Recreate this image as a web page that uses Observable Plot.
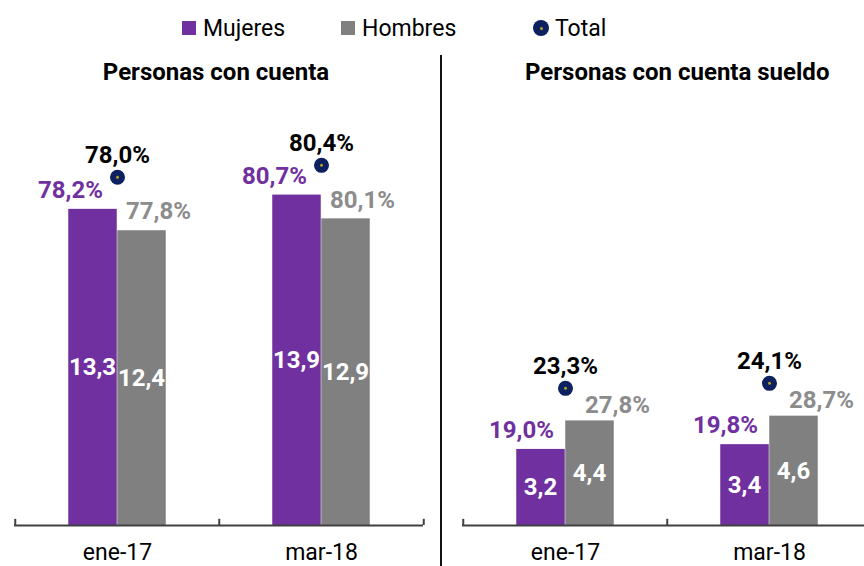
<!DOCTYPE html>
<html>
<head>
<meta charset="utf-8">
<script src="https://cdn.jsdelivr.net/npm/d3@7"></script>
<script src="https://cdn.jsdelivr.net/npm/@observablehq/plot@0.6"></script>
<style>
  html, body { margin: 0; padding: 0; background: #fff; }
  body { width: 864px; height: 566px; overflow: hidden; font-family: Roboto, "Noto Sans", sans-serif; position: relative; }
  #legend { position: relative; height: 55px; font-size: 23px; color: #000; }
  .item { position: absolute; top: 13px; display: flex; align-items: center; height: 30px; }
  .sq { width: 14px; height: 14px; margin-right: 7px; }
  .dotl { width: 16px; height: 16px; border-radius: 50%; background: #0d2060; margin-right: 6px; position: relative; }
  .dotl::after { content: ""; position: absolute; left: 6.5px; top: 6.5px; width: 3px; height: 3px; border-radius: 50%; background: #b5a21f; }
  #row { display: flex; height: 511px; width: 900px; }
  #p1 { width: 440px; flex: none; }
  #p2 { width: 440px; flex: none; border-left: 2px solid #111; }
  .title { height: 34px; line-height: 34px; font-weight: bold; font-size: 24px; color: #000; white-space: nowrap; }
</style>
</head>
<body>
<div id="legend"></div>
<div id="row">
  <div id="p1"><div class="title" id="t1"></div></div>
  <div id="p2"><div class="title" id="t2"></div></div>
</div>
<script>
// ---- Data ----
const legendLabels = ["Mujeres", "Hombres", "Total"];
const panels = ["Personas con cuenta", "Personas con cuenta sueldo"];
const periods = ["ene-17", "mar-18"];
// millions of people (bar heights / inner labels)
const mujeresCount = [[13.3, 13.9], [3.2, 3.4]];
const hombresCount = [[12.4, 12.9], [4.4, 4.6]];
// percentages shown above bars
const mujeresPct = [[78.2, 80.7], [19.0, 19.8]];
const hombresPct = [[77.8, 80.1], [27.8, 28.7]];
const totalPct = [[78.0, 80.4], [23.3, 24.1]];
// vertical position of the total marker (same units as counts)
const totalPos = [[14.65, 15.15], [5.77, 5.98]];

const colors = { Mujeres: "#7030a0", Hombres: "#808080", dot: "#0d2060", dotCenter: "#b5a21f" };
const pctColors = { Mujeres: "#7030a0", Hombres: "#8c8c8c" };

// ---- Legend ----
const legend = document.getElementById("legend");
const legendX = [182, 341, 533];
legendLabels.forEach((lab, i) => {
  const it = document.createElement("div");
  it.className = "item";
  it.style.left = legendX[i] + "px";
  const m = document.createElement("div");
  if (i < 2) { m.className = "sq"; m.style.background = colors[lab]; }
  else { m.className = "dotl"; }
  it.appendChild(m);
  const t = document.createElement("span");
  t.textContent = lab;
  it.appendChild(t);
  legend.appendChild(it);
});

const fmt = v => v.toFixed(1).replace(".", ",");

function makePanel(pi, opts) {
  const rows = periods.map((p, j) => ({
    period: p,
    m: mujeresCount[pi][j], h: hombresCount[pi][j],
    mp: mujeresPct[pi][j], hp: hombresPct[pi][j],
    tp: totalPct[pi][j], tpos: totalPos[pi][j]
  }));
  const W = opts.width, ml = opts.marginLeft, mr = opts.marginRight;
  const bw = (W - ml - mr) / periods.length;
  const half = bw / 2;
  const barW = 49;
  const font = { fontFamily: "Roboto, sans-serif", fontSize: 24, fontWeight: "bold" };
  return Plot.plot({
    width: W,
    height: 477,
    marginLeft: ml,
    marginRight: mr,
    marginTop: 20,
    marginBottom: 41,
    style: { fontFamily: "Roboto, sans-serif", background: "transparent", overflow: "visible" },
    x: { domain: periods, padding: 0, label: null },
    y: { domain: [0, 17.5], axis: null },
    marks: [
      Plot.barY(rows, { x: "period", y: "m", fill: colors.Mujeres, insetLeft: half - barW, insetRight: half }),
      Plot.barY(rows, { x: "period", y: "h", fill: colors.Hombres, insetLeft: half, insetRight: half - barW }),
      Plot.ruleY([0], { stroke: "#404040", strokeWidth: 2 }),
      Plot.ruleX(periods, { x: d => d, y1: 0, y2: 0.26, dx: -half, stroke: "#404040", strokeWidth: 2 }),
      Plot.ruleX(periods.slice(-1), { x: d => d, y1: 0, y2: 0.26, dx: half, stroke: "#404040", strokeWidth: 2 }),
      Plot.axisX({ tickSize: 0, tickPadding: 18, fontSize: 23, fill: "#000", fontFamily: "Roboto, sans-serif" }),
      // inner count labels
      Plot.text(rows, { x: "period", y: d => d.m / 2, text: d => fmt(d.m), dx: -25, fill: "#fff", ...font }),
      Plot.text(rows, { x: "period", y: d => d.h / 2, text: d => fmt(d.h), dx: 24, fill: "#fff", ...font }),
      // percentage labels
      Plot.text(rows, { x: "period", y: "m", text: d => fmt(d.mp) + "%", dx: opts.mdx, dy: -19, fill: pctColors.Mujeres, ...font }),
      Plot.text(rows, { x: "period", y: "h", text: d => fmt(d.hp) + "%", dx: opts.hdx, dy: opts.hdy, fill: pctColors.Hombres, ...font }),
      // total markers
      Plot.dot(rows, { x: "period", y: "tpos", r: 7.5, fill: colors.dot }),
      Plot.dot(rows, { x: "period", y: "tpos", r: 1.5, fill: colors.dotCenter }),
      Plot.text(rows, { x: "period", y: "tpos", text: d => fmt(d.tp) + "%", dy: -22, fill: "#000", ...font })
    ]
  });
}

const t1 = document.getElementById("t1");
t1.textContent = panels[0];
t1.style.textAlign = "center";
t1.style.width = "432px";
const t2 = document.getElementById("t2");
t2.textContent = panels[1];
t2.style.paddingLeft = "83px";

document.getElementById("p1").appendChild(makePanel(0, { width: 440, marginLeft: 14, marginRight: 17, mdx: -47, hdx: 41, hdy: -19 }));
document.getElementById("p2").appendChild(makePanel(1, { width: 440, marginLeft: 20, marginRight: 11, mdx: -44, hdx: 52, hdy: -16 }));
</script>
</body>
</html>
